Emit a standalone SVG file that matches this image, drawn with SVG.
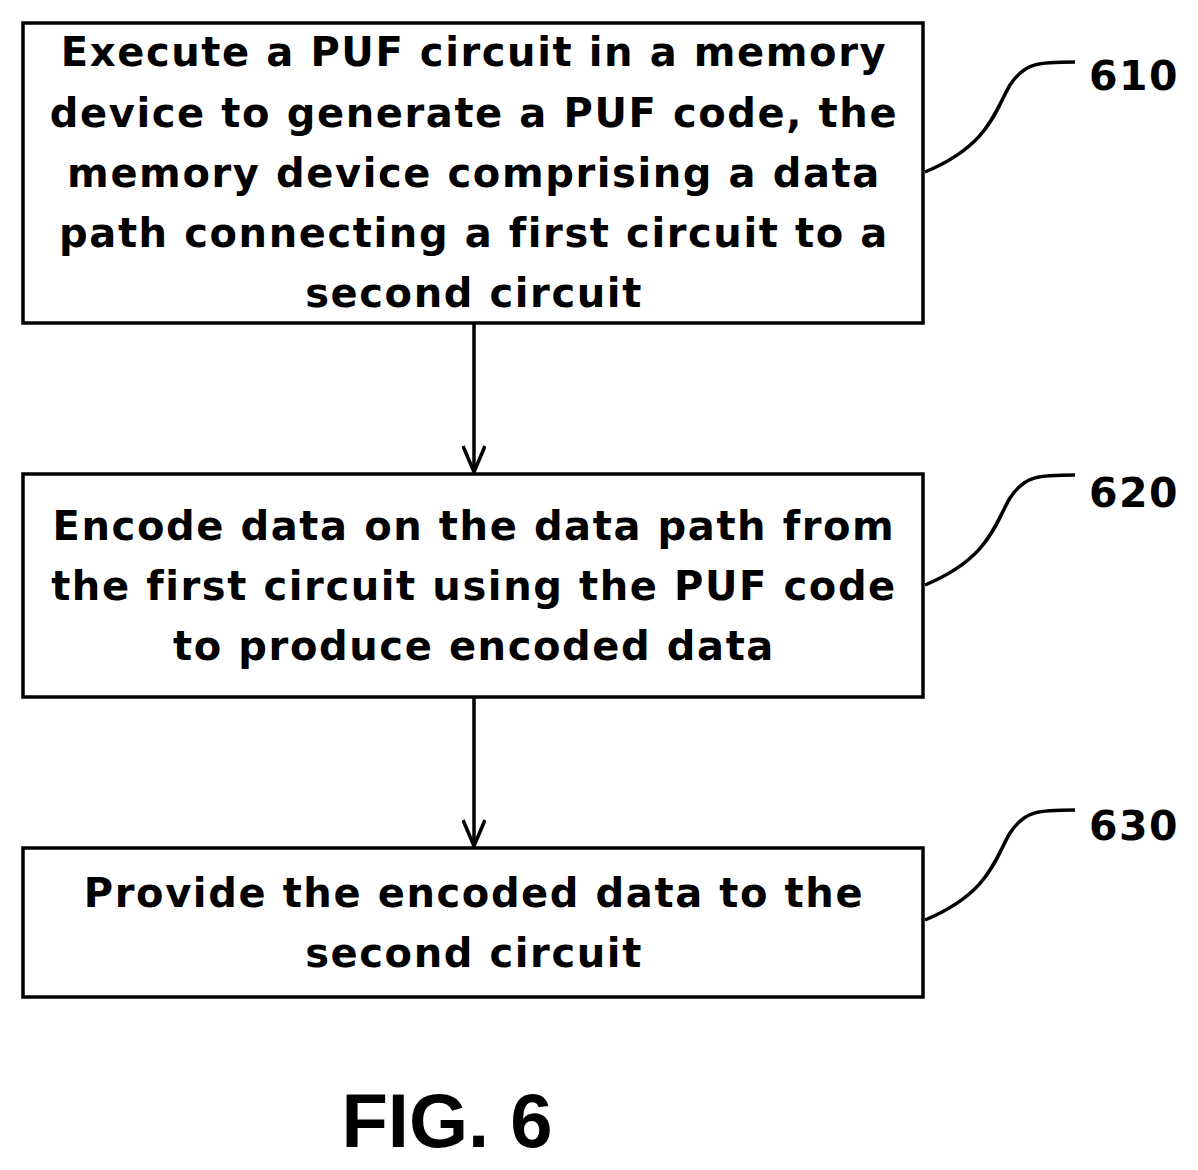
<svg xmlns="http://www.w3.org/2000/svg" width="1198" height="1170" viewBox="0 0 1198 1170">
<style>
.b{fill:#fff;stroke:#000;stroke-width:3.5}
.t{font-family:"DejaVu Sans",sans-serif;font-weight:bold;font-size:40px;letter-spacing:1.6px;text-anchor:middle;fill:#000}
.l{font-family:"DejaVu Sans",sans-serif;font-weight:bold;font-size:41px;letter-spacing:1.5px;fill:#000}
.c{fill:none;stroke:#000;stroke-width:3.5}
</style>
<defs><marker id="a" viewBox="0 0 30 24" refX="28" refY="12" markerWidth="30" markerHeight="24" markerUnits="userSpaceOnUse" orient="auto"><path d="M2 1 L28 12 L2 23" fill="none" stroke="#000" stroke-width="3.5"/></marker></defs>
<rect width="1198" height="1170" fill="#fff"/>
<g id="n610"><rect class="b" x="23" y="23" width="900" height="300"/>
<text class="t" x="474" y="66">Execute a PUF circuit in a memory</text>
<text class="t" x="474" y="127">device to generate a PUF code, the</text>
<text class="t" x="474" y="187">memory device comprising a data</text>
<text class="t" x="474" y="247">path connecting a first circuit to a</text>
<text class="t" x="474" y="307">second circuit</text>
<path class="c" d="M925 172 C990 145 995 110 1010 85 C1025 62 1040 62 1075 62"/>
<text class="l" x="1089" y="90">610</text></g>
<g id="n620"><rect class="b" x="23" y="474" width="900" height="223"/>
<text class="t" x="474" y="540">Encode data on the data path from</text>
<text class="t" x="474" y="600">the first circuit using the PUF code</text>
<text class="t" x="474" y="660">to produce encoded data</text>
<path class="c" d="M925 585 C990 558 995 523 1010 498 C1025 475 1040 475 1075 475"/>
<text class="l" x="1089" y="507">620</text></g>
<g id="n630"><rect class="b" x="23" y="848" width="900" height="149"/>
<text class="t" x="474" y="907">Provide the encoded data to the</text>
<text class="t" x="474" y="967">second circuit</text>
<path class="c" d="M925 920 C990 893 995 858 1010 833 C1025 810 1040 810 1075 810"/>
<text class="l" x="1089" y="840">630</text></g>
<g id="connectors">
<line class="c" x1="474" y1="323" x2="474" y2="472" marker-end="url(#a)"/>
<line class="c" x1="474" y1="697" x2="474" y2="846" marker-end="url(#a)"/>
</g>
<text x="447" y="1147" style="font-family:'Liberation Sans',sans-serif;font-weight:bold;font-size:76px;text-anchor:middle">FIG. 6</text>
</svg>
